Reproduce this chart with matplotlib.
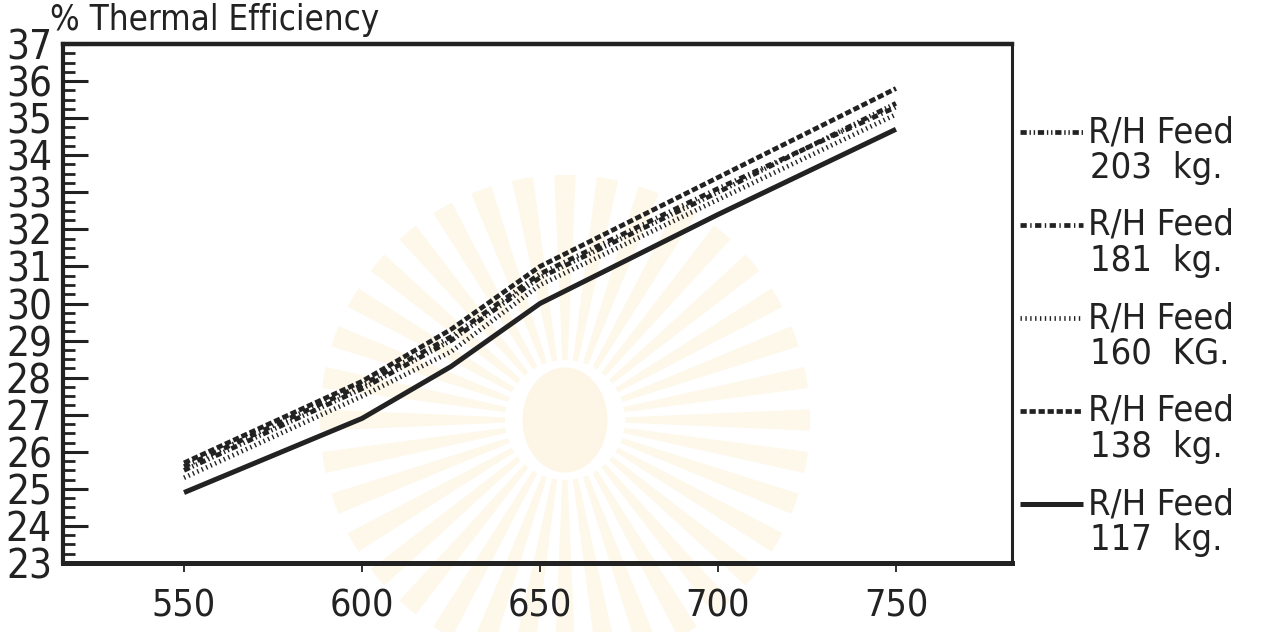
import numpy as np
import matplotlib.pyplot as plt
from matplotlib.lines import Line2D
from matplotlib.patches import Wedge, Ellipse
from matplotlib.ticker import MultipleLocator

# furnace temperature vs thermal efficiency for several R/H feed rates
temp = [550, 600, 625, 650, 700, 750]
eff_203 = [25.5, 27.7, 29.0, 30.7, 33.0, 35.4]
eff_181 = [25.6, 27.8, 29.1, 30.8, 33.1, 35.3]
eff_160 = [25.3, 27.5, 28.7, 30.5, 32.8, 35.1]
eff_138 = [25.7, 27.9, 29.3, 31.0, 33.4, 35.8]
eff_117 = [24.9, 26.9, 28.3, 30.0, 32.4, 34.7]

feeds = ['203', '181', '160', '138', '117']
units = ['kg.', 'kg.', 'KG.', 'kg.', 'kg.']
series = [eff_203, eff_181, eff_160, eff_138, eff_117]
styles = [(0, (4.5, 2, 1, 2, 1, 2)),
          (0, (4.5, 2.5, 1, 2.5)),
          (0, (1, 2.5)),
          (0, (4.5, 2)),
          '-']

ink = '#222222'
plt.rcParams['lines.scale_dashes'] = False
plt.rcParams['font.family'] = ['DejaVu Sans Condensed', 'Liberation Sans Narrow', 'DejaVu Sans']
plt.rcParams['font.stretch'] = 'condensed'
plt.rcParams['text.color'] = ink

W, H = 1269, 632
fig = plt.figure(figsize=(W / 100, H / 100), dpi=100)

# faint emblem behind the plot
bg = fig.add_axes([0, 0, 1, 1], zorder=-1)
bg.set_xlim(0, W)
bg.set_ylim(H, 0)
bg.axis('off')
cx, cy = 565, 420
for a in np.arange(0, 360, 10):
    bg.add_patch(Wedge((cx, cy), 245, a - 2.5, a + 2.5, width=185,
                       facecolor='#fef8ea', edgecolor='none'))
bg.add_patch(Ellipse((cx, cy), 85, 105, facecolor='#fdf6e6', edgecolor='none'))

ax = fig.add_axes([63 / W, 1 - 563 / H, (1012 - 63) / W, (563 - 44) / H])
ax.set_facecolor('none')

for vals, ls in zip(series, styles):
    lw = 3.6 if ls == '-' else 3.4
    ax.plot(temp, vals, color=ink, linestyle=ls, linewidth=lw,
            solid_capstyle='butt', dash_capstyle='butt')

ax.set_xlim(516, 782.6)
ax.set_ylim(23, 37)
ax.set_xticks([550, 600, 650, 700, 750])
ax.set_yticks(range(23, 38))
ax.yaxis.set_minor_locator(MultipleLocator(0.25))

for side, lw in [('top', 3.2), ('left', 3.0), ('bottom', 3.6), ('right', 2.2)]:
    ax.spines[side].set_linewidth(lw)
    ax.spines[side].set_color(ink)

ax.tick_params(axis='y', which='major', direction='in', length=18, width=2.2,
               pad=8, labelsize=29, colors=ink)
ax.tick_params(axis='y', which='minor', direction='in', length=8.5, width=2.0, colors=ink)
ax.tick_params(axis='x', which='major', direction='out', length=6.5, width=1.3,
               pad=12, labelsize=27, colors=ink)

fig.text(50 / W, 1 - 20 / H, '% Thermal Efficiency', fontsize=25, va='center', ha='left')

# legend drawn beside the axes
for i, (f, u, ls) in enumerate(zip(feeds, units, styles)):
    y1 = 132 + i * 93
    lw = 3.6 if ls == '-' else 3.4
    fig.add_artist(Line2D([1020 / W, 1083 / W], [1 - y1 / H] * 2, transform=fig.transFigure,
                          color=ink, linestyle=ls, linewidth=lw,
                          solid_capstyle='butt', dash_capstyle='butt'))
    fig.text(1088 / W, 1 - y1 / H, 'R/H Feed', fontsize=26, va='center', ha='left')
    fig.text(1090 / W, 1 - (y1 + 36) / H, f'{f}  {u}', fontsize=26, va='center', ha='left')

fig.savefig('out.png', dpi=100, facecolor='white')
